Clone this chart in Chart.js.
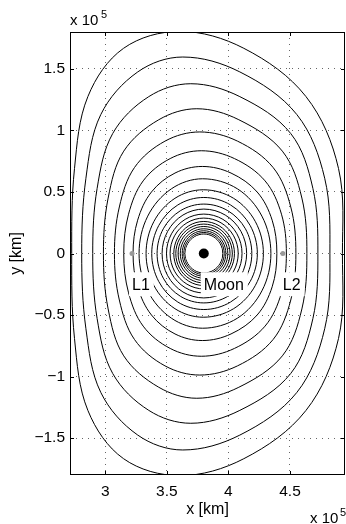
<!DOCTYPE html>
<html>
<head>
<meta charset="utf-8">
<script src="https://cdn.jsdelivr.net/npm/chart.js@4.4.1/dist/chart.umd.min.js"></script>
<style>
  html, body { margin: 0; padding: 0; background: #fff; }
  #wrap { width: 346px; height: 524px; }
</style>
</head>
<body>
<div id="wrap"><canvas id="chart" width="346" height="524"></canvas></div>
<script>
// Axes (km)
const xRange = [271300, 494700];
const yRange = [-180000, 180000];
const xTicks = [300000, 350000, 400000, 450000];
const xTickLabels = ['3', '3.5', '4', '4.5'];
const yTicks = [-150000, -100000, -50000, 0, 50000, 100000, 150000];
const yTickLabels = ['\u22121.5', '\u22121', '\u22120.5', '0', '0.5', '1', '1.5'];

// Moon and Lagrange points
const moonPos = [380000, 0];
const lagrangePos = [[321700, 0], [444200, 0]];
const pointLabels = ['L1', 'Moon', 'L2'];
const pointLabelX = [321700, 380000, 444200];
const pointLabelY = -25000;

// Contours, upper half only (the figure is symmetric about y = 0),
// traced left -> top -> right, values in km
const contour1 = [[272680, 0], [274960, 69110], [285850, 127610], [314800, 166750], [360490, 180490], [412520, 166750], [462930, 127610], [489430, 69110], [492600, 0]];
const contour2 = [[280810, 0], [284230, 61140], [296300, 112880], [326340, 147560], [362930, 159670], [409270, 147560], [455610, 112880], [478210, 61140], [482440, 0]];
const contour3 = [[289760, 0], [293330, 52850], [306020, 97560], [335290, 127480], [369430, 137970], [409270, 127480], [450570, 97560], [468620, 52850], [472680, 0]];
const contour4 = [[298460, 0], [302280, 45040], [314960, 83170], [343420, 108700], [374310, 117640], [408460, 108700], [443820, 83170], [459670, 45040], [463740, 0]];
const contour5 = [[307400, 0], [311380, 37800], [323660, 69840], [348460, 91300], [376750, 98780], [407400, 91300], [436340, 69840], [450650, 37800], [454800, 0]];
const contour6 = [[314960, 0], [318860, 31950], [330730, 59020], [352680, 77150], [377970, 83500], [404880, 77150], [429760, 59020], [443090, 31950], [447070, 0]];
const contour7 = [[322520, 0], [326260, 27070], [337480, 50000], [356590, 65370], [378780, 70730], [402110, 65370], [423330, 50000], [435530, 27070], [439350, 0]];
const contour8 = [[327400, 0], [334450, 30370], [353700, 52590], [379000, 60730], [407250, 52590], [427200, 30370], [434500, 0]];
const contour9 = [[333100, 0], [339400, 25900], [356550, 44850], [379500, 51790], [404200, 44850], [421900, 25900], [428400, 0]];
const contour10 = [[337700, 0], [343400, 22770], [358850, 39430], [380000, 45530], [401750, 39430], [417650, 22770], [423500, 0]];
const contour11 = [[342050, 0], [347100, 20080], [361000, 34780], [380000, 40160], [399500, 34780], [413800, 20080], [419000, 0]];
const contour12 = [[346100, 0], [350650, 18050], [363050, 31260], [380000, 36100], [397400, 31260], [410150, 18050], [414800, 0]];
const contour13 = [[349700, 0], [353750, 16020], [364850, 27740], [380000, 32030], [395550, 27740], [406900, 16020], [411050, 0]];
const contour14 = [[352600, 0], [356250, 14390], [366300, 24920], [380000, 28780], [394000, 24920], [404200, 14390], [407950, 0]];
const contour15 = [[355600, 0], [358900, 13010], [367800, 22530], [380000, 26020], [392450, 22530], [401550, 13010], [404900, 0]];
const contour16 = [[357250, 0], [360300, 11950], [368600, 20700], [380000, 23900], [391600, 20700], [400050, 11950], [403150, 0]];
const contour17 = [[359100, 0], [361900, 10980], [369550, 19010], [380000, 21950], [390650, 19010], [398450, 10980], [401300, 0]];
const contour18 = [[360900, 0], [363450, 10040], [370450, 17390], [380000, 20080], [389750, 17390], [396900, 10040], [399500, 0]];
const contour19 = [[362450, 0], [364800, 9230], [371200, 15990], [380000, 18460], [388950, 15990], [395500, 9230], [397900, 0]];
const contour20 = [[363750, 0], [365900, 8540], [371850, 14780], [380000, 17070], [388300, 14780], [394350, 8540], [396600, 0]];
const contour21 = [[364880, 0], [366910, 7925], [372440, 13730], [380000, 15850], [387690, 13730], [393310, 7925], [395370, 0]];

const contours = [contour1, contour2, contour3, contour4, contour5, contour6, contour7,
  contour8, contour9, contour10, contour11, contour12, contour13, contour14,
  contour15, contour16, contour17, contour18, contour19, contour20, contour21];

const FONT = '"Liberation Sans", Arial, Helvetica, sans-serif';

// mirror the upper half, then wrap one point on each end so the spline
// gets neighbours all the way round (the two extra segments are hidden)
function closedLoop(upper) {
  const lower = upper.slice(1, -1).reverse().map(p => [p[0], -p[1]]);
  const loop = upper.concat(lower);
  const n = loop.length;
  return [loop[n - 1], ...loop, loop[0], loop[1]].map(p => ({ x: p[0], y: p[1] }));
}

const contourSets = contours.map(c => {
  const data = closedLoop(c);
  const last = data.length - 2;
  return {
    data: data,
    showLine: true,
    borderColor: '#000',
    borderWidth: 1,
    pointRadius: 0,
    tension: 0.35,
    fill: false,
    segment: {
      borderColor: ctx => (ctx.p0DataIndex === 0 || ctx.p0DataIndex === last) ? 'rgba(0,0,0,0)' : undefined
    }
  };
});

// frame, inward ticks, point labels and the exponent notes
const decorPlugin = {
  id: 'decor',
  afterDraw(chart) {
    const { ctx, chartArea: a, scales: { x, y } } = chart;
    ctx.save();

    ctx.font = '16px ' + FONT;
    ctx.textBaseline = 'middle';
    ctx.textAlign = 'left';
    pointLabels.forEach((t, i) => {
      const px = x.getPixelForValue(pointLabelX[i]);
      const py = y.getPixelForValue(pointLabelY);
      const w = ctx.measureText(t).width;
      ctx.fillStyle = '#fff';
      ctx.fillRect(px - 3, py - 12, w + 7, 24);
      ctx.fillStyle = '#000';
      ctx.fillText(t, px, py + 1);
    });

    ctx.strokeStyle = '#000';
    ctx.lineWidth = 1;
    ctx.strokeRect(a.left + 0.5, a.top + 0.5, a.right - a.left - 1, a.bottom - a.top - 1);
    const tl = 4;
    ctx.beginPath();
    xTicks.forEach(v => {
      const px = Math.round(x.getPixelForValue(v)) + 0.5;
      ctx.moveTo(px, a.bottom); ctx.lineTo(px, a.bottom - tl);
      ctx.moveTo(px, a.top); ctx.lineTo(px, a.top + tl);
    });
    yTicks.forEach(v => {
      const py = Math.round(y.getPixelForValue(v)) + 0.5;
      ctx.moveTo(a.left, py); ctx.lineTo(a.left + tl, py);
      ctx.moveTo(a.right, py); ctx.lineTo(a.right - tl, py);
    });
    ctx.stroke();

    ctx.fillStyle = '#000';
    ctx.textBaseline = 'alphabetic';
    ctx.font = '15px ' + FONT;
    ctx.fillText('x 10', 70, 25);
    ctx.fillText('x 10', 310, 523);
    ctx.font = '11px ' + FONT;
    ctx.fillText('5', 101, 18);
    ctx.fillText('5', 340, 516);
    ctx.restore();
  }
};

new Chart(document.getElementById('chart'), {
  type: 'scatter',
  data: {
    datasets: [
      { data: [{ x: moonPos[0], y: moonPos[1] }], pointRadius: 5, backgroundColor: '#000', borderWidth: 0 },
      { data: lagrangePos.map(p => ({ x: p[0], y: p[1] })), pointRadius: 2.5, backgroundColor: '#999', borderWidth: 0 },
      { data: [{ x: moonPos[0], y: moonPos[1] }], pointRadius: 18.3, backgroundColor: '#fff', borderWidth: 0 },
      ...contourSets
    ]
  },
  options: {
    responsive: false,
    animation: false,
    events: [],
    layout: { autoPadding: false, padding: { top: 32, right: 1, left: 0, bottom: 0 } },
    plugins: { legend: { display: false }, tooltip: { enabled: false } },
    scales: {
      x: {
        type: 'linear',
        min: xRange[0],
        max: xRange[1],
        z: 1,
        afterBuildTicks: s => { s.ticks = xTicks.map(v => ({ value: v })); },
        afterFit: s => { s.height = 49; },
        ticks: {
          callback: v => xTickLabels[xTicks.indexOf(v)],
          font: { family: FONT, size: 15.5 },
          color: '#000',
          padding: 7,
          maxRotation: 0,
          autoSkip: false
        },
        grid: { color: 'rgba(0,0,0,0.6)', lineWidth: 1, drawTicks: false },
        border: { display: false, dash: [1, 5] },
        title: { display: true, text: 'x [km]', color: '#000', font: { family: FONT, size: 16 }, padding: { top: 0, bottom: 5 } }
      },
      y: {
        type: 'linear',
        min: yRange[0],
        max: yRange[1],
        z: 1,
        afterBuildTicks: s => { s.ticks = yTicks.map(v => ({ value: v })); },
        afterFit: s => { s.width = 70; },
        ticks: {
          callback: v => yTickLabels[yTicks.indexOf(v)],
          font: { family: FONT, size: 15.5 },
          color: '#000',
          padding: 5,
          autoSkip: false
        },
        grid: { color: 'rgba(0,0,0,0.6)', lineWidth: 1, drawTicks: false },
        border: { display: false, dash: [1, 5] },
        title: { display: true, text: 'y [km]', color: '#000', font: { family: FONT, size: 16 }, padding: { top: 7, bottom: 0 } }
      }
    }
  },
  plugins: [decorPlugin]
});
</script>
</body>
</html>
